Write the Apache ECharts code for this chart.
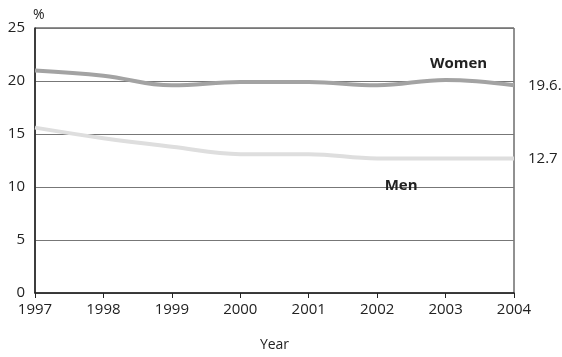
<!DOCTYPE html>
<html><head><meta charset="utf-8">
<script src="https://cdn.jsdelivr.net/npm/echarts@6/dist/echarts.min.js"></script>
<style>html,body{margin:0;padding:0;background:#fff}#c{width:562px;height:357px}</style>
</head><body><div id="c"></div>
<script>
var years = ['1997','1998','1999','2000','2001','2002','2003','2004'];
var women = [21.0, 20.5, 19.6, 19.9, 19.9, 19.6, 20.1, 19.6];
var men = [15.6, 14.6, 13.8, 13.1, 13.1, 12.7, 12.7, 12.7];
var womenEndText = '19.6.';
var menEndText = '12.7';
var womenLabelAt = ['2003', 21.8];
var menLabelAt = ['2002', 10.4];
var font = 'Open Sans';
var fs = 15;
var chart = echarts.init(document.getElementById('c'));
chart.setOption({
  animation: false,
  grid: {left: 35, right: 48, top: 28, bottom: 61, show: true, borderColor: '#222', borderWidth: 1},
  xAxis: {
    type: 'category', data: years, boundaryGap: false,
    name: 'Year', nameLocation: 'middle', nameGap: 45,
    nameTextStyle: {fontFamily: font, fontSize: fs - 1, color: '#222'},
    axisLine: {lineStyle: {color: '#222', width: 1.5}},
    axisTick: {lineStyle: {color: '#222'}, length: 5},
    axisLabel: {fontFamily: font, fontSize: fs, color: '#222', margin: 9},
    splitLine: {show: false}
  },
  yAxis: {
    type: 'value', min: 0, max: 25, interval: 5,
    name: '%', nameLocation: 'end', nameGap: 6,
    nameTextStyle: {fontFamily: font, fontSize: fs - 1, color: '#222', align: 'left', padding: [0,0,0,-2]},
    axisLine: {show: true, lineStyle: {color: '#222', width: 1.5}},
    axisTick: {show: false},
    axisLabel: {fontFamily: font, fontSize: fs, color: '#222', margin: 10},
    splitLine: {lineStyle: {color: '#777', width: 1}}
  },
  series: [
    {
      name: 'Women', type: 'line', data: women, smooth: 0.4, symbol: 'none',
      lineStyle: {color: '#a3a3a3', width: 4},
      endLabel: {show: true, formatter: womenEndText, distance: 14, fontFamily: font, fontSize: fs, color: '#222'},
      markPoint: {symbol: 'circle', symbolSize: 0, data: [{coord: womenLabelAt, label: {show: true, position: 'inside', offset: [13, 2], formatter: 'Women', fontFamily: font, fontWeight: 'bold', fontSize: fs, color: '#222'}}]}
    },
    {
      name: 'Men', type: 'line', data: men, smooth: 0.4, symbol: 'none',
      lineStyle: {color: '#dedede', width: 4},
      endLabel: {show: true, formatter: menEndText, distance: 14, fontFamily: font, fontSize: fs, color: '#222'},
      markPoint: {symbol: 'circle', symbolSize: 0, data: [{coord: menLabelAt, label: {show: true, position: 'inside', offset: [24, 3], formatter: 'Men', fontFamily: font, fontWeight: 'bold', fontSize: fs, color: '#222'}}]}
    }
  ]
});
</script></body></html>
